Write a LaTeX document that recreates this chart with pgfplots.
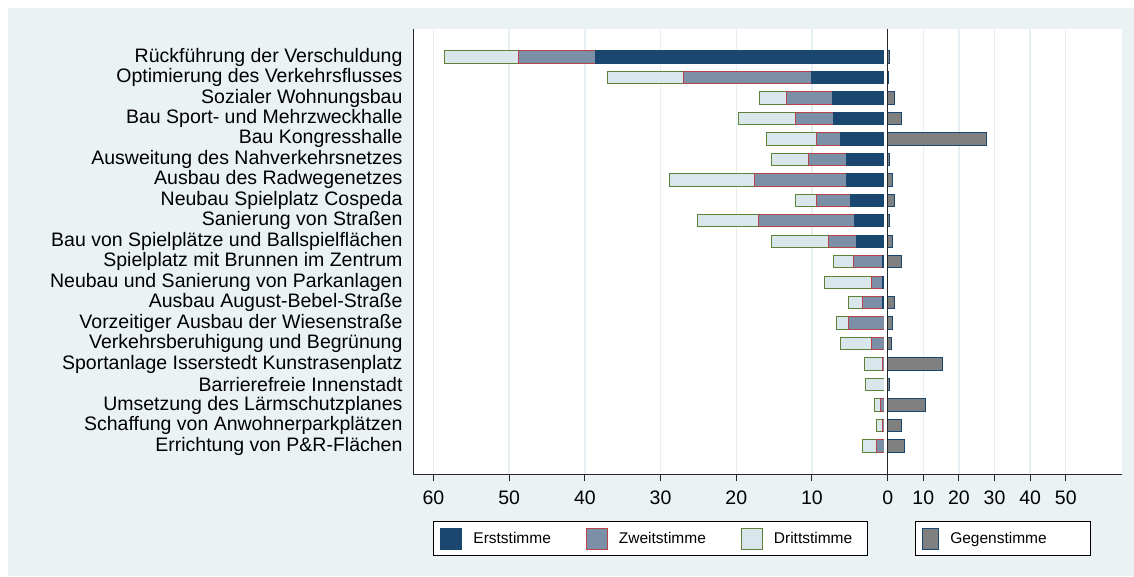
\documentclass[border=0pt]{standalone}
\usepackage{pgfplots}
\pgfplotsset{compat=1.18}
\usepackage{pgfplotstable}
\usepackage{fontspec}
\setmainfont{Liberation Sans}

\definecolor{bgc}{HTML}{EAF2F3}
\definecolor{gridc}{HTML}{E6EFF1}
\definecolor{erst}{HTML}{1A476F}
\definecolor{zweit}{HTML}{7B90A6}
\definecolor{zweitedge}{HTML}{B8434A}
\definecolor{dritt}{HTML}{D9E6EB}
\definecolor{drittedge}{HTML}{5E8336}
\definecolor{gegen}{HTML}{808080}

% Stimmen je Projekt (Zeile 1 = oben)
\pgfplotstableread{
id erst zweit dritt gegen
1  38.6 10.1  9.8  0.6
2  10.0 17.0 10.0  0.3
3   7.3  6.1  3.5  1.9
4   7.1  5.1  7.5  3.9
5   6.3  3.1  6.6 27.8
6   5.5  5.0  4.8  0.6
7   5.5 12.1 11.2  1.4
8   4.9  4.5  2.8  1.9
9   4.4 12.7  8.0  0.6
10  4.1  3.7  7.5  1.4
11  0.7  3.8  2.7  3.9
12  0.7  1.5  6.1  0
13  0.7  2.6  1.9  2.0
14  0    5.2  1.5  1.4
15  0    2.2  4.1  1.1
16  0    0.7  2.3 15.3
17  0    0    2.9  0.6
18  0    0.9  0.9 10.7
19  0    0.7  0.75 3.9
20  0    1.45 1.9  4.6
}\data

\pgfplotsset{
  common/.style={
    scale only axis, height=445pt,
    ymin=-0.37, ymax=21.37, y dir=reverse,
    bar width=12.3pt,
    axis line style={-, line width=1pt, black!85},
    tick align=outside, major tick length=7pt,
    x tick style={line width=1pt, black!85},
    y tick style={draw=none},
    xmajorgrids, major grid style={gridc, line width=1.4pt},
    axis background/.style={fill=white},
    tick label style={font=\fontsize{19.5}{20}\selectfont},
    xticklabel style={yshift=-6pt},
    clip=false,
  },
  leg/.style={
    legend style={at={(0.5,-0.1056)}, anchor=north, draw=black, line width=1pt,
      fill=white, font=\fontsize{15.5}{18}\selectfont,
      inner xsep=7pt, inner ysep=6pt,
      /tikz/every odd column/.append style={column sep=9pt}},
  },
  sw/.style={legend image code/.code={\draw[##1, line width=1pt] (0pt,-10.5pt) rectangle (#1,10.5pt);}},
}

\begin{document}
\begin{tikzpicture}
\useasboundingbox (0,0) rectangle (1134pt,576pt);
\fill[white] (0,0) rectangle (1134pt,576pt);
\fill[bgc] (8pt,0) rectangle (1134pt,568pt);

% linke Seite: Zustimmung
\begin{axis}[common, leg,
  width=474.7pt, at={(650.35pt,324.5pt)}, anchor=center,
  xbar stacked,
  xmin=-62.7, xmax=0,
  axis x line*=bottom, axis y line*=left,
  xtick={-60,-50,-40,-30,-20,-10}, xticklabels={60,50,40,30,20,10},
  ytick={1,...,20},
  yticklabels={
    Rückführung der Verschuldung,
    Optimierung des Verkehrsflusses,
    Sozialer Wohnungsbau,
    Bau Sport- und Mehrzweckhalle,
    Bau Kongresshalle,
    Ausweitung des Nahverkehrsnetzes,
    Ausbau des Radwegenetzes,
    Neubau Spielplatz Cospeda,
    Sanierung von Straßen,
    Bau von Spielplätze und Ballspielflächen,
    Spielplatz mit Brunnen im Zentrum,
    Neubau und Sanierung von Parkanlagen,
    Ausbau August-Bebel-Straße,
    Vorzeitiger Ausbau der Wiesenstraße,
    Verkehrsberuhigung und Begrünung,
    Sportanlage Isserstedt Kunstrasenplatz,
    Barrierefreie Innenstadt,
    Umsetzung des Lärmschutzplanes,
    Schaffung von Anwohnerparkplätzen,
    Errichtung von P\&R-Flächen},
  legend columns=3,
  legend style={/tikz/every even column/.append style={column sep=33pt}},
]
\addplot[fill=erst, draw=erst, line width=1pt, sw=21pt] table[x expr=-\thisrow{erst}, y=id] {\data};
\addplot[fill=zweit, draw=zweitedge, line width=1pt, sw=21pt] table[x expr=-\thisrow{zweit}, y=id] {\data};
\addplot[fill=dritt, draw=drittedge, line width=1pt, sw=21pt] table[x expr=-\thisrow{dritt}, y=id] {\data};
\legend{Erststimme, Zweitstimme, Drittstimme\rule{6pt}{0pt}}
\end{axis}

% rechte Seite: Gegenstimmen
\begin{axis}[common, leg,
  width=238pt, at={(1003pt,324.5pt)}, anchor=center,
  xbar,
  xmin=-1.04, xmax=65.8,
  axis x line*=bottom, axis y line=none,
  xtick={0,10,20,30,40,50}, xticklabels={0,10,20,30,40,50},
  ytick=\empty,
]
\addplot[fill=gegen, draw=erst, line width=1pt, sw=16pt] table[x=gegen, y=id] {\data};
\legend{Gegenstimme\rule{35pt}{0pt}}
\draw[line width=1.4pt, black!85] (axis cs:0,-0.37) -- (axis cs:0,21.37);
\end{axis}
\end{tikzpicture}
\end{document}
